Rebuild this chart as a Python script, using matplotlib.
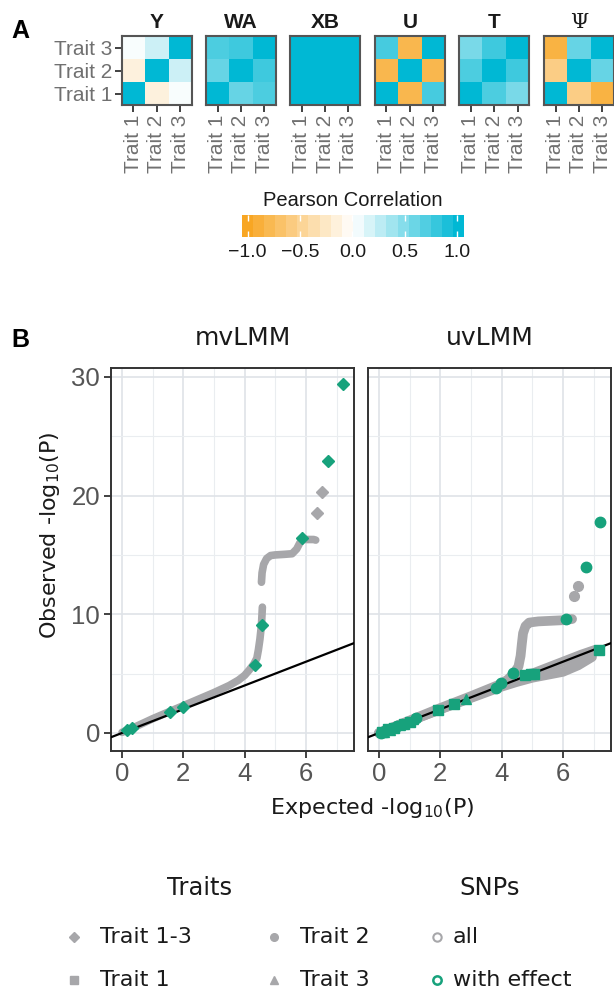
import numpy as np
import matplotlib
matplotlib.use("Agg")
import matplotlib.pyplot as plt
from matplotlib.colors import LinearSegmentedColormap, Normalize
from matplotlib.cm import ScalarMappable

# ---------------- data ----------------
traits = ["Trait 1", "Trait 2", "Trait 3"]
matrix_names = ["Y", "WA", "XB", "U", "T", "\u03a8"]
corr_Y = [[1.00, -0.15, 0.03], [-0.15, 1.00, 0.20], [0.03, 0.20, 1.00]]
corr_WA = [[1.00, 0.60, 0.70], [0.60, 1.00, 0.75], [0.70, 0.75, 1.00]]
corr_XB = [[1.00, 1.00, 1.00], [1.00, 1.00, 1.00], [1.00, 1.00, 1.00]]
corr_U = [[1.00, -0.80, 0.72], [-0.80, 1.00, -0.80], [0.72, -0.80, 1.00]]
corr_T = [[1.00, 0.70, 0.52], [0.70, 1.00, 0.75], [0.52, 0.75, 1.00]]
corr_Psi = [[1.00, -0.55, -0.85], [-0.55, 1.00, 0.60], [-0.85, 0.60, 1.00]]
corr_all = [corr_Y, corr_WA, corr_XB, corr_U, corr_T, corr_Psi]
cbar_ticks = [-1.0, -0.5, 0.0, 0.5, 1.0]
cbar_labels = ["\u22121.0", "\u22120.5", "0.0", "0.5", "1.0"]

# mvLMM (Trait 1-3, diamonds)
mv_all_x1 = [0.0, 0.5, 1.0, 1.5, 2.0, 2.5, 3.0, 3.5, 3.8, 4.0, 4.15, 4.3, 4.4, 4.45, 4.5, 4.55, 4.58]
mv_all_y1 = [0.05, 0.6, 1.2, 1.75, 2.3, 2.85, 3.4, 4.0, 4.45, 4.85, 5.3, 5.8, 6.3, 7.0, 7.9, 9.1, 10.6]
mv_all_x2 = [4.55, 4.57, 4.62, 4.72, 4.85, 5.0, 5.3, 5.55, 5.7, 5.8, 5.9, 6.05, 6.25, 6.32]
mv_all_y2 = [12.7, 13.5, 14.2, 14.7, 14.95, 15.0, 15.05, 15.1, 15.5, 16.0, 16.3, 16.3, 16.3, 16.25]
mv_all_pts_x = [6.37, 6.51]
mv_all_pts_y = [18.5, 20.3]
mv_eff_x = [0.16, 0.33, 1.57, 2.0, 4.34, 4.56, 5.86, 6.73, 7.2]
mv_eff_y = [0.25, 0.4, 1.75, 2.2, 5.7, 9.1, 16.4, 22.9, 29.4]

# uvLMM
uv_t1_x = [0.0, 1.0, 2.0, 3.0, 4.0, 5.0, 6.0, 6.6, 7.05]
uv_t1_y = [0.0, 1.0, 2.0, 3.0, 4.0, 5.0, 6.0, 6.6, 7.0]
uv_t3_x = [0.0, 1.0, 2.0, 3.0, 4.0, 4.5, 5.0, 5.5, 6.0, 6.5, 6.95]
uv_t3_y = [0.0, 1.0, 2.0, 2.95, 3.9, 4.3, 4.65, 4.9, 5.15, 5.7, 6.4]
uv_t2_x = [0.0, 1.0, 2.0, 3.0, 4.0, 4.2, 4.4, 4.55, 4.62, 4.66, 4.7, 4.78, 4.9, 5.2, 5.6, 6.0, 6.3]
uv_t2_y = [0.0, 1.05, 2.1, 3.1, 4.15, 4.5, 5.0, 5.6, 6.5, 7.5, 8.4, 9.0, 9.3, 9.4, 9.45, 9.5, 9.6]
uv_t2_pts_x = [6.35, 6.48]
uv_t2_pts_y = [11.5, 12.4]
uv_eff_t1_x = [0.1, 0.3, 0.5, 0.8, 1.0, 1.93, 2.45, 4.75, 4.95, 5.05, 7.18]
uv_eff_t1_y = [0.1, 0.3, 0.45, 0.75, 0.95, 1.9, 2.45, 4.85, 4.95, 5.0, 7.0]
uv_eff_t2_x = [0.05, 0.2, 0.4, 0.6, 1.2, 3.83, 3.99, 4.37, 6.09, 6.74, 7.2]
uv_eff_t2_y = [0.0, 0.15, 0.35, 0.55, 1.25, 3.8, 4.2, 5.08, 9.6, 14.0, 17.8]
uv_eff_t3_x = [0.15, 0.35, 0.7, 1.1, 2.83]
uv_eff_t3_y = [0.05, 0.25, 0.65, 1.15, 2.9]

xticks_B = [0, 2, 4, 6]
yticks_B = [0, 10, 20, 30]

# ---------------- style ----------------
W, H = 614, 990
fig = plt.figure(figsize=(W / 100, H / 100), dpi=100)

def rect(x0, y0, x1, y1):
    return [x0 / W, 1 - y1 / H, (x1 - x0) / W, (y1 - y0) / H]

ORANGE = "#F8A623"
CYAN = "#00B8D4"
cmap = LinearSegmentedColormap.from_list("pc", [ORANGE, "#FFFFFF", CYAN])
GRAY = "#A7A7AA"
GREEN = "#17A27C"
BORDER = "#333333"
SANS = ["Liberation Sans", "DejaVu Sans"]
DJ = ["DejaVu Sans"]

# ---------------- panel A ----------------
hm_lefts = [121.7, 205.9, 290.1, 374.8, 459.3, 544.0]
for k, (name, mat) in enumerate(zip(matrix_names, corr_all)):
    x0 = hm_lefts[k]
    ax = fig.add_axes(rect(x0, 36, x0 + 70, 105))
    ax.imshow(np.array(mat), cmap=cmap, vmin=-1, vmax=1, origin="lower",
              aspect="auto", extent=(0.5, 3.5, 0.5, 3.5))
    ax.set_xlim(0.5, 3.5)
    ax.set_ylim(0.5, 3.5)
    ax.set_xticks([1, 2, 3])
    ax.set_xticklabels(traits, rotation=90, family=SANS, fontsize=15, color="#707070")
    if k == 0:
        ax.set_yticks([1, 2, 3])
        ax.set_yticklabels(traits, family=SANS, fontsize=15, color="#707070")
    else:
        ax.set_yticks([])
    ax.tick_params(length=5, width=1.3, color=BORDER, pad=2)
    for s in ax.spines.values():
        s.set_color("#555555")
        s.set_linewidth(1.5)
    if name == "\u03a8":
        ax.set_title(name, family=["DejaVu Serif"], fontsize=15, pad=6, color="#1A1A1A")
    else:
        ax.set_title(name, family=SANS, fontsize=15, fontweight="bold", pad=6, color="#1A1A1A")

fig.text(11 / W, 1 - 31 / H, "A", family=SANS, fontsize=18, fontweight="bold", va="center", ha="left")

# colorbar
cax = fig.add_axes(rect(241.7, 215, 464.3, 236.7))
sm = ScalarMappable(norm=Normalize(-1.057, 1.067), cmap=cmap.resampled(20))
cb = fig.colorbar(sm, cax=cax, orientation="horizontal")
cb.outline.set_visible(False)
cb.set_ticks(cbar_ticks)
cb.set_ticklabels(cbar_labels)
cax.tick_params(direction="in", color="white", length=4, width=1, top=True, bottom=True,
                labelsize=14, labelcolor="#1A1A1A", pad=5)
for t in cax.get_xticklabels():
    t.set_family(SANS)
fig.text(353 / W, 1 - 201 / H, "Pearson Correlation", family=SANS, fontsize=14.5,
         color="#1A1A1A", ha="center", va="center")

# ---------------- panel B ----------------
xlim_B = (-0.36, 7.57)
ylim_B = (-1.52, 30.75)

def style_B(ax, left):
    ax.set_xlim(*xlim_B)
    ax.set_ylim(*ylim_B)
    ax.set_xticks(xticks_B)
    ax.set_xticks([1, 3, 5, 7], minor=True)
    ax.set_yticks(yticks_B)
    ax.set_yticks([5, 15, 25], minor=True)
    ax.grid(True, which="major", color="#DFE3E8", lw=1.2, zorder=0)
    ax.grid(True, which="minor", color="#EAEDF0", lw=0.8, zorder=0)
    ax.tick_params(which="major", length=5, width=1.3, color=BORDER, labelsize=18.5,
                   labelcolor="#555555", pad=3)
    ax.tick_params(which="minor", length=0)
    if not left:
        ax.tick_params(axis="y", which="both", left=False, labelleft=False)
    for t in ax.get_xticklabels() + ax.get_yticklabels():
        t.set_family(SANS)
    for s in ax.spines.values():
        s.set_color(BORDER)
        s.set_linewidth(1.4)
    ax.set_axisbelow(True)

axm = fig.add_axes(rect(111, 368, 354, 751))
axu = fig.add_axes(rect(368, 368, 611, 751))
style_B(axm, True)
style_B(axu, False)

# mvLMM
axm.plot(mv_all_x1, mv_all_y1, color=GRAY, lw=5.5, solid_capstyle="round", zorder=2)
axm.plot(mv_all_x2, mv_all_y2, color=GRAY, lw=5.5, solid_capstyle="round", zorder=2)
axm.plot(mv_all_pts_x, mv_all_pts_y, ls="none", marker="D", ms=6, color=GRAY, zorder=3)
axm.axline((0, 0), slope=1, color="black", lw=1.6, zorder=4)
axm.plot(mv_eff_x, mv_eff_y, ls="none", marker="D", ms=6.5, color=GREEN, zorder=5)

# uvLMM
for xs, ys in [(uv_t3_x, uv_t3_y), (uv_t1_x, uv_t1_y), (uv_t2_x, uv_t2_y)]:
    axu.plot(xs, ys, color=GRAY, lw=7, solid_capstyle="round", zorder=2)
axu.plot(uv_t2_pts_x, uv_t2_pts_y, ls="none", marker="o", ms=7, color=GRAY, zorder=3)
axu.axline((0, 0), slope=1, color="black", lw=1.6, zorder=4)
axu.plot(uv_eff_t1_x, uv_eff_t1_y, ls="none", marker="s", ms=7, color=GREEN, zorder=5)
axu.plot(uv_eff_t2_x, uv_eff_t2_y, ls="none", marker="o", ms=7.5, color=GREEN, zorder=5)
axu.plot(uv_eff_t3_x, uv_eff_t3_y, ls="none", marker="^", ms=7.5, color=GREEN, zorder=5)

fig.text(243 / W, 1 - 338 / H, "mvLMM", family=DJ, fontsize=18, color="#1A1A1A", ha="center", va="center")
fig.text(490 / W, 1 - 338 / H, "uvLMM", family=DJ, fontsize=18, color="#1A1A1A", ha="center", va="center")
fig.text(11 / W, 1 - 340 / H, "B", family=SANS, fontsize=18, fontweight="bold", va="center", ha="left")
fig.text(50 / W, 1 - 535 / H, "Observed -log$_{10}$(P)", family=DJ, fontsize=16, color="#1A1A1A",
         rotation=90, ha="center", va="center")
fig.text(372 / W, 1 - 808 / H, "Expected -log$_{10}$(P)", family=DJ, fontsize=16, color="#1A1A1A",
         ha="center", va="center")

# ---------------- legend ----------------
lax = fig.add_axes([0, 0, 1, 1])
lax.set_xlim(0, W)
lax.set_ylim(H, 0)
lax.axis("off")
lax.text(200, 888, "Traits", family=DJ, fontsize=17.5, color="#1A1A1A", ha="center", va="center")
lax.text(490, 888, "SNPs", family=DJ, fontsize=17.5, color="#1A1A1A", ha="center", va="center")
legend_items = [
    (74, 937, "D", "Trait 1-3"),
    (74, 980, "s", "Trait 1"),
    (274, 937, "o", "Trait 2"),
    (274, 980, "^", "Trait 3"),
]
for x, y, m, lab in legend_items:
    lax.plot([x], [y], ls="none", marker=m, ms=5.5, color=GRAY)
    lax.text(x + 26, y, lab, family=DJ, fontsize=16, color="#1A1A1A", ha="left", va="center")
lax.plot([437], [937], ls="none", marker="o", ms=6, mfc="none", mec=GRAY, mew=1.5)
lax.plot([437], [980], ls="none", marker="o", ms=6, mfc="none", mec=GREEN, mew=1.8)
lax.text(453, 937, "all", family=DJ, fontsize=16, color="#1A1A1A", ha="left", va="center")
lax.text(453, 980, "with effect", family=DJ, fontsize=16, color="#1A1A1A", ha="left", va="center")

fig.savefig("out.png", dpi=100)
